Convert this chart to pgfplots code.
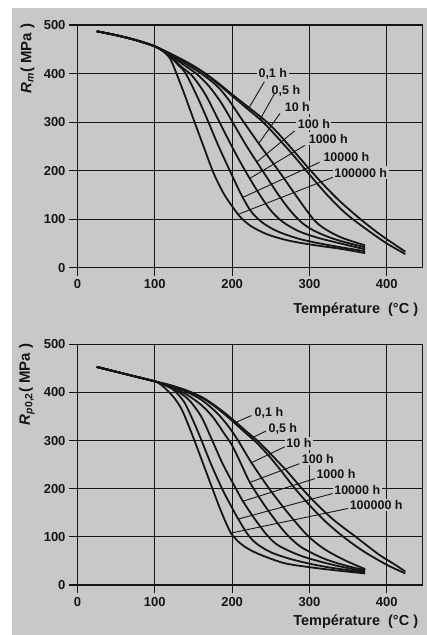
\documentclass[border=0pt]{standalone}
\usepackage{fontspec}
\setmainfont{Liberation Sans}
\usepackage{pgfplots}
\pgfplotsset{compat=1.18}

\definecolor{bg}{RGB}{200,200,200}
\definecolor{ink}{RGB}{22,22,22}

\pgfplotsset{
  panel/.style={
    scale only axis, width=345.2pt,
    xmin=0, xmax=446.5, ymin=0, ymax=500,
    xtick={0,100,200,300,400}, ytick={0,100,200,300,400,500},
    tick pos=left, tick align=outside, major tick length=8.5pt,
    tick style={ink, line width=1.1pt},
    grid=major, grid style={ink, line width=1.1pt},
    axis line style={ink, line width=1.3pt},
    /pgf/number format/assume math mode=true,
    ticklabel style={font=\fontsize{13}{13}\selectfont\bfseries, text=ink},
    xlabel style={anchor=west, font=\fontsize{14.5}{14.5}\selectfont\bfseries, text=ink},
    ylabel style={anchor=south east, font=\fontsize{15}{15}\selectfont\bfseries, text=ink},
    clip=false,
  },
  crv/.style={ink, line width=1.8pt, smooth, no markers},
  lead/.style={ink, line width=0.9pt, no markers},
}
\tikzset{
  lbl/.style={anchor=west, fill=bg, inner sep=1.5pt, text=ink,
    font=\fontsize{12.5}{12.5}\selectfont\bfseries},
}

\begin{document}
\begin{tikzpicture}
\fill[white] (0pt,0pt) rectangle (427pt,635pt);
\fill[bg] (12pt,0pt) rectangle (427pt,627pt);

% ---- Rm ----
\begin{axis}[panel, at={(77.5pt,367.3pt)}, anchor=south west, height=242.7pt,
  xlabel={Température\ \ (°C )},
  xlabel style={at={(axis description cs:0.615,-0.174)}},
  ylabel={\textit{R}\textsubscript{\textit{m}}( MPa )},
  ylabel style={at={(axis description cs:-0.1144,1.0206)}},
]
\node[lbl] at (axis cs:232,400) {0,1 h};
\node[lbl] at (axis cs:249,365) {0,5 h};
\node[lbl] at (axis cs:266,330) {10 h};
\node[lbl] at (axis cs:283,297) {100 h};
\node[lbl] at (axis cs:297,266) {1000 h};
\node[lbl] at (axis cs:316,229) {10000 h};
\node[lbl] at (axis cs:330,196) {100000 h};

\addplot[crv] coordinates {(25,487) (50,479) (75,469) (100,456) (120,441) (140,425) (160,406) (180,383) (200,357) (220,332) (245,300) (260,276) (280,240) (300,203) (320,168) (340,136) (366,100) (390,70) (410,48) (424,33)};
\addplot[crv] coordinates {(25,487) (50,479) (75,469) (100,456) (120,441) (140,424) (160,405) (180,381) (200,354) (220,327) (240,300) (260,266) (280,230) (300,192) (320,155) (340,122) (356,100) (380,72) (400,50) (424,28)};
\addplot[crv] coordinates {(25,487) (50,479) (75,469) (100,456) (120,439) (140,420) (160,400) (180,375) (195,347) (215,300) (237,250) (260,200) (282,150) (305,100) (320,80) (340,63) (360,52) (372,46)};
\addplot[crv] coordinates {(25,487) (50,479) (75,469) (100,456) (120,437) (140,415) (155,398) (170,374) (185,342) (197,310) (217,255) (238,203) (260,150) (275,118) (290,93) (305,77) (325,63) (345,53) (372,42)};
\addplot[crv] coordinates {(25,487) (50,479) (75,469) (100,456) (120,435) (135,413) (148,396) (165,358) (182,305) (198,255) (215,205) (235,152) (250,118) (265,95) (285,76) (310,62) (340,50) (372,38)};
\addplot[crv] coordinates {(25,487) (50,479) (75,469) (100,456) (115,442) (130,418) (140,400) (155,352) (168,305) (182,252) (197,200) (212,150) (225,115) (240,92) (260,74) (290,58) (330,45) (372,34)};
\addplot[crv] coordinates {(25,487) (50,479) (75,469) (100,456) (110,447) (120,430) (130,392) (140,350) (150,306) (163,250) (176,195) (189,153) (202,122) (212,102) (225,85) (245,69) (270,57) (300,48) (340,39) (372,30)};

\addplot[lead] coordinates {(241.7,383) (222,330)};
\addplot[lead] coordinates {(255,359) (236,305)};
\addplot[lead] coordinates {(262,318) (234,255)};
\addplot[lead] coordinates {(281,282) (232,218)};
\addplot[lead] coordinates {(294,252) (223,184)};
\addplot[lead] coordinates {(313,217) (214,145)};
\addplot[lead] coordinates {(330,186) (208,110)};
\end{axis}

% ---- Rp0,2 ----
\begin{axis}[panel, at={(77.5pt,50pt)}, anchor=south west, height=240.7pt,
  xlabel={Température\ \ (°C )},
  xlabel style={at={(axis description cs:0.615,-0.152)}},
  ylabel={\textit{R}\textsubscript{\textit{p}0,2}( MPa )},
  ylabel style={at={(axis description cs:-0.1144,1.018)}},
]
\node[lbl] at (axis cs:227,357) {0,1 h};
\node[lbl] at (axis cs:245,325) {0,5 h};
\node[lbl] at (axis cs:268,294) {10 h};
\node[lbl] at (axis cs:288,261) {100 h};
\node[lbl] at (axis cs:307,230) {1000 h};
\node[lbl] at (axis cs:330,197) {10000 h};
\node[lbl] at (axis cs:350,166) {100000 h};

\addplot[crv] coordinates {(25,453) (50,443) (75,433) (100,423) (120,415) (140,405) (160,391) (175,376) (190,358) (205,338) (220,317) (234,298) (250,272) (270,238) (290,201) (310,167) (330,137) (345,118) (360,100) (390,63) (410,43) (424,28)};
\addplot[crv] coordinates {(25,453) (50,443) (75,433) (100,423) (120,415) (140,404) (160,390) (175,374) (190,355) (205,334) (218,315) (230,298) (245,273) (262,240) (281,201) (300,166) (320,133) (344,100) (370,70) (400,42) (424,24)};
\addplot[crv] coordinates {(25,453) (50,443) (75,433) (100,423) (120,414) (140,402) (160,385) (180,358) (195,330) (207,302) (225,254) (248,200) (272,150) (298,102) (320,74) (345,52) (372,33)};
\addplot[crv] coordinates {(25,453) (50,443) (75,433) (100,423) (120,412) (140,397) (160,374) (175,349) (190,314) (200,290) (212,250) (223,213) (240,170) (258,130) (272,103) (290,78) (320,54) (350,39) (372,31)};
\addplot[crv] coordinates {(25,453) (50,443) (75,433) (100,423) (115,414) (130,402) (145,383) (160,350) (173,305) (188,251) (205,200) (214,174) (228,140) (245,104) (260,82) (290,60) (330,42) (372,28)};
\addplot[crv] coordinates {(25,453) (50,443) (75,433) (100,423) (112,416) (125,404) (138,380) (150,340) (160,302) (173,250) (187,200) (200,160) (208,137) (219,108) (230,88) (250,68) (280,52) (320,38) (372,26)};
\addplot[crv] coordinates {(25,453) (50,443) (75,433) (100,423) (108,416) (115,406) (125,389) (135,364) (146,322) (159,267) (172,211) (185,156) (197,112) (205,95) (215,81) (232,66) (266,46) (300,37) (331,31) (372,24)};

\addplot[lead] coordinates {(225,352) (205,338)};
\addplot[lead] coordinates {(244,320) (225,305)};
\addplot[lead] coordinates {(268,287) (225,254)};
\addplot[lead] coordinates {(287,252) (223,213)};
\addplot[lead] coordinates {(307,221) (214,174)};
\addplot[lead] coordinates {(330,190) (208,137)};
\addplot[lead] coordinates {(350,159) (199,108)};
\end{axis}

\pgfresetboundingbox
\path[use as bounding box] (0pt,0pt) rectangle (427pt,635pt);
\end{tikzpicture}
\end{document}
